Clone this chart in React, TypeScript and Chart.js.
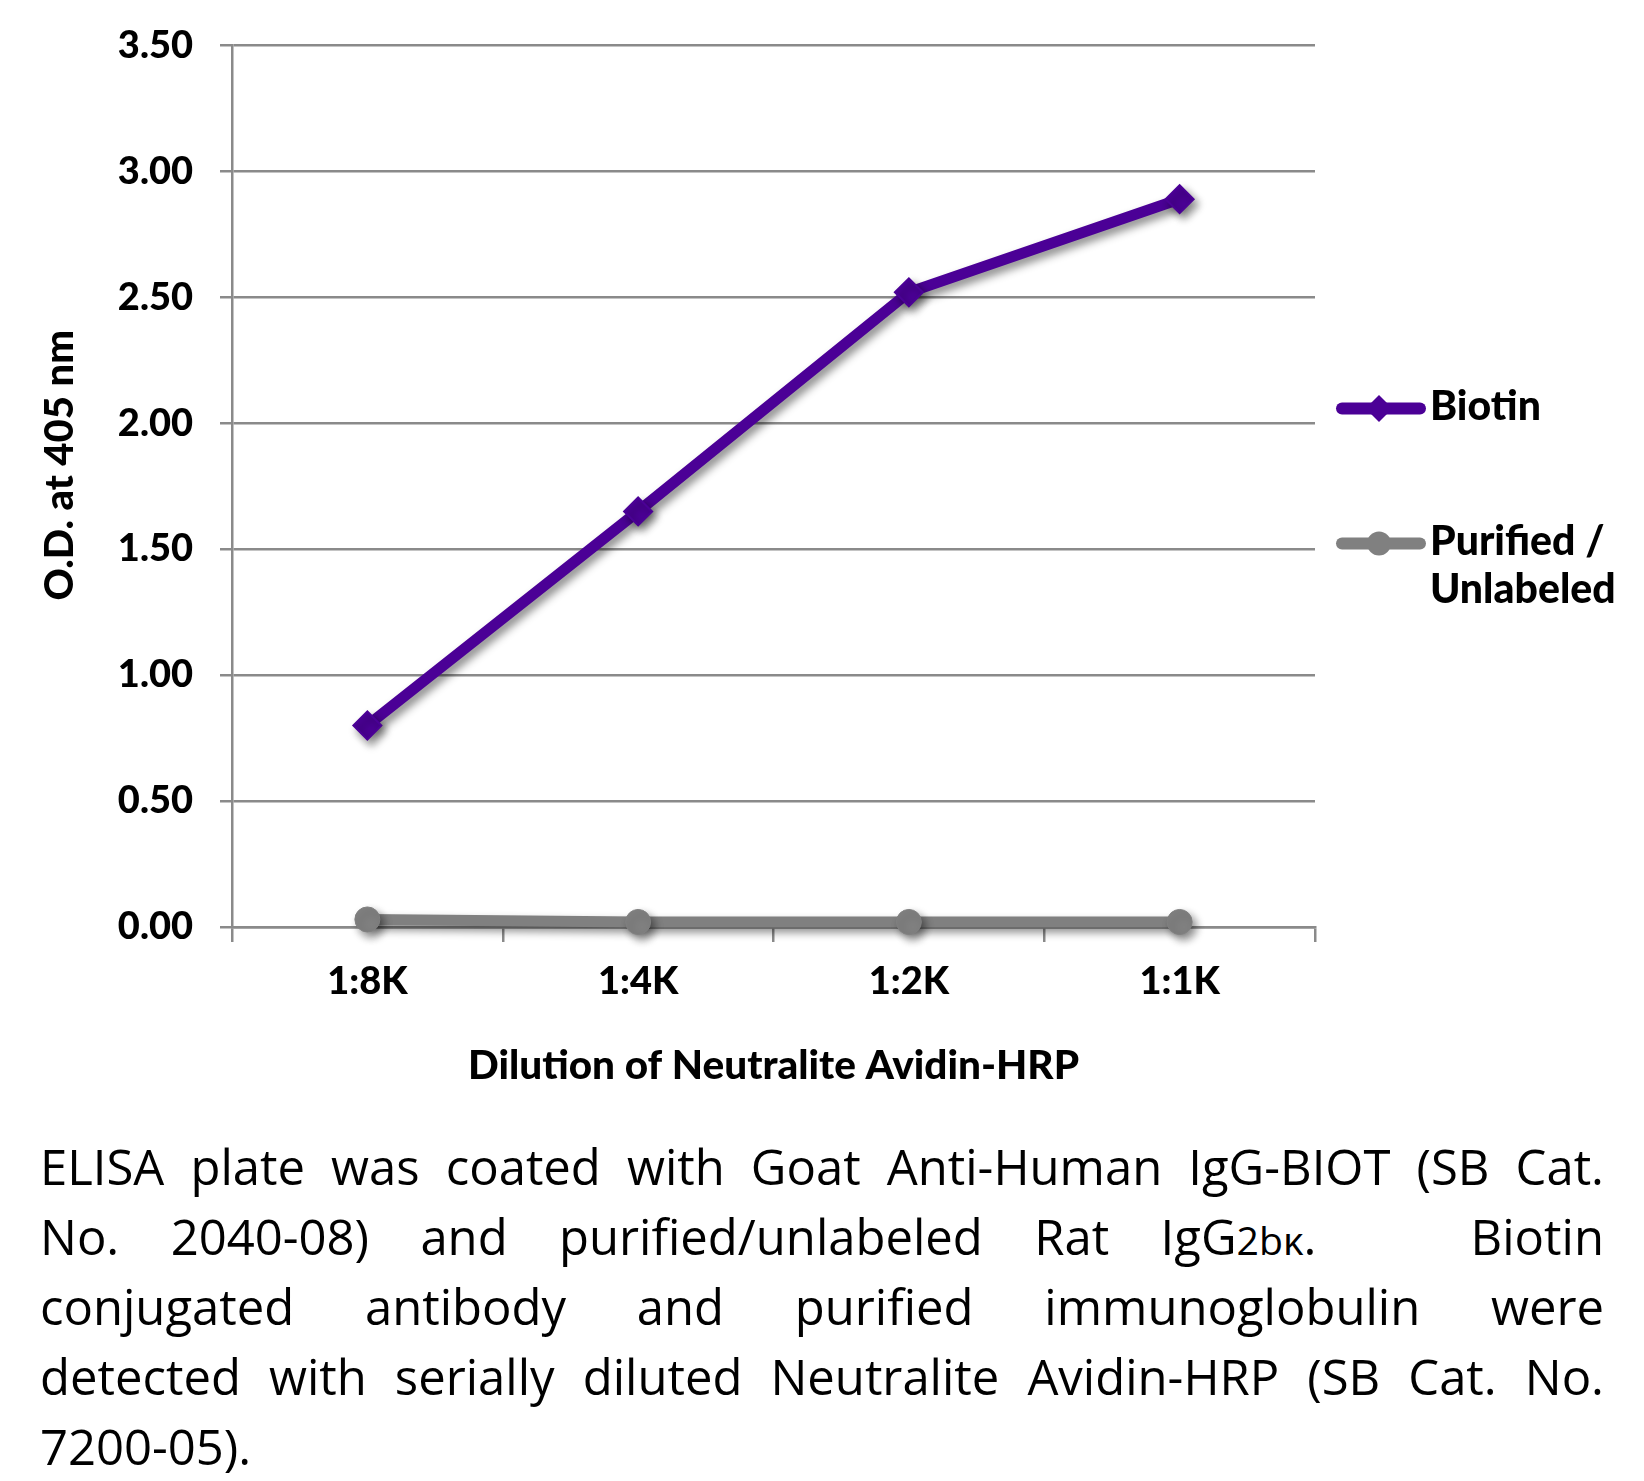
import React, { useEffect, useRef } from 'react';
import { Chart, registerables } from 'chart.js';

Chart.register(...registerables);

const CATEGORIES = ['1:8K', '1:4K', '1:2K', '1:1K'];
const BIOTIN = [0.8, 1.65, 2.52, 2.89];
const PURIFIED = [0.03, 0.02, 0.02, 0.02];
const SERIES_LINES = [['Biotin'], ['Purified /', 'Unlabeled']];
const SERIES_COLORS = ['#4B0096', '#808080'];
const Y_MIN = 0;
const Y_MAX = 3.5;
const Y_STEP = 0.5;
const Y_TITLE = 'O.D. at 405 nm';
const X_TITLE = 'Dilution of Neutralite Avidin-HRP';

const CAPTION_LINES: { t: string; small?: boolean }[][] = [
  [{ t: 'ELISA plate was coated with Goat Anti-Human IgG-BIOT (SB Cat.' }],
  [
    { t: 'No. 2040-08) and purified/unlabeled Rat IgG' },
    { t: '2b\u03BA', small: true },
    { t: '.\u00A0\u00A0 Biotin' },
  ],
  [{ t: 'conjugated antibody and purified immunoglobulin were' }],
  [{ t: 'detected with serially diluted Neutralite Avidin-HRP (SB Cat. No.' }],
  [{ t: '7200-05).' }],
];

const FONT = 'Lato, "Open Sans", sans-serif';
const CAPTION_FONT = '"Open Sans", "Noto Sans", sans-serif';
const CANVAS_W = 1628;
const CANVAS_H = 1100;
const AREA_LEFT = 224;
const AREA_RIGHT = 1307;
const AREA_TOP_PAD = 37.5;
const AREA_BOTTOM = 919;

const shadowPlugin = {
  id: 'shadowPlugin',
  beforeDatasetsDraw(chart: any) {
    const ctx = chart.ctx;
    ctx.save();
    ctx.shadowColor = 'rgba(0,0,0,0.45)';
    ctx.shadowBlur = 9;
    ctx.shadowOffsetX = 4;
    ctx.shadowOffsetY = 5;
  },
  afterDatasetsDraw(chart: any) {
    chart.ctx.restore();
  },
};

const yTitlePlugin = {
  id: 'yTitlePlugin',
  afterDraw(chart: any) {
    const ctx = chart.ctx;
    const ca = chart.chartArea;
    ctx.save();
    ctx.translate(52, (ca.top + ca.bottom) / 2 - 21);
    ctx.rotate(-Math.PI / 2);
    ctx.font = `900 40px ${FONT}`;
    ctx.fillStyle = '#000';
    ctx.textAlign = 'center';
    ctx.textBaseline = 'middle';
    ctx.fillText(Y_TITLE, 0, 0);
    ctx.restore();
  },
};

const legendPlugin = {
  id: 'customLegend',
  afterDraw(chart: any) {
    const ctx = chart.ctx;
    const ca = chart.chartArea;
    const x0 = ca.right + 21;
    const x1 = x0 + 90;
    const mx = x0 + 43;
    const ys = [ca.top + 363, ca.top + 498];
    chart.data.datasets.forEach((ds: any, i: number) => {
      const y = ys[i];
      ctx.save();
      ctx.strokeStyle = ds.borderColor;
      ctx.lineWidth = 12;
      ctx.lineCap = 'round';
      ctx.beginPath();
      ctx.moveTo(x0 + 6, y);
      ctx.lineTo(x1 - 6, y);
      ctx.stroke();
      ctx.fillStyle = ds.borderColor;
      ctx.beginPath();
      if (ds.pointStyle === 'rectRot') {
        const r = 13.5;
        ctx.moveTo(mx - r, y);
        ctx.lineTo(mx, y - r);
        ctx.lineTo(mx + r, y);
        ctx.lineTo(mx, y + r);
        ctx.closePath();
      } else {
        ctx.arc(mx, y, 12, 0, Math.PI * 2);
      }
      ctx.fill();
      ctx.font = `900 41px ${FONT}`;
      ctx.fillStyle = '#000';
      ctx.textAlign = 'left';
      ctx.textBaseline = 'alphabetic';
      const lines = SERIES_LINES[i];
      lines.forEach((ln, k) => {
        ctx.fillText(ln, x1 + 4, y + 11 + k * 48);
      });
      ctx.restore();
    });
  },
};

function ChartView() {
  const ref = useRef<HTMLCanvasElement | null>(null);
  useEffect(() => {
    if (!ref.current) return;
    const gridColor = '#8a8a8a';
    const chart = new Chart(ref.current, {
      type: 'line',
      data: {
        labels: CATEGORIES,
        datasets: [
          {
            label: SERIES_LINES[0].join(' '),
            data: BIOTIN,
            borderColor: SERIES_COLORS[0],
            backgroundColor: SERIES_COLORS[0],
            borderWidth: 11,
            pointStyle: 'rectRot',
            pointRadius: 14,
            pointBorderWidth: 2,
            pointBackgroundColor: SERIES_COLORS[0],
            pointBorderColor: SERIES_COLORS[0],
            tension: 0,
            clip: false,
          } as any,
          {
            label: SERIES_LINES[1].join(' '),
            data: PURIFIED,
            borderColor: SERIES_COLORS[1],
            backgroundColor: SERIES_COLORS[1],
            borderWidth: 11,
            pointStyle: 'circle',
            pointRadius: 12.5,
            pointBorderWidth: 1,
            pointBackgroundColor: SERIES_COLORS[1],
            pointBorderColor: SERIES_COLORS[1],
            tension: 0,
            clip: false,
          } as any,
        ],
      },
      options: {
        animation: false,
        responsive: false,
        maintainAspectRatio: false,
        layout: {
          padding: { top: AREA_TOP_PAD, right: CANVAS_W - AREA_RIGHT, bottom: 0, left: 0 },
        },
        plugins: {
          legend: { display: false },
          tooltip: { enabled: false },
        },
        scales: {
          x: {
            type: 'category',
            offset: true,
            grid: {
              display: true,
              offset: true,
              drawOnChartArea: false,
              drawTicks: true,
              tickLength: 15,
              color: gridColor,
              lineWidth: 2.5,
            },
            border: { display: true, color: gridColor, width: 2.5 },
            ticks: {
              color: '#000',
              font: { family: FONT, size: 38, weight: '900' },
              padding: 17,
              maxRotation: 0,
            },
            title: {
              display: true,
              text: X_TITLE,
              color: '#000',
              font: { family: FONT, size: 40.5, weight: '900' },
              padding: { top: 0, bottom: 18 },
            },
            afterFit(scale: any) {
              scale.height = CANVAS_H - AREA_BOTTOM;
              scale.paddingLeft = 0;
              scale.paddingRight = 0;
            },
          } as any,
          y: {
            min: Y_MIN,
            max: Y_MAX,
            grid: {
              color: gridColor,
              lineWidth: 2.5,
              tickLength: 12,
              drawTicks: true,
            },
            border: { display: true, color: gridColor, width: 2.5 },
            ticks: {
              stepSize: Y_STEP,
              color: '#000',
              font: { family: FONT, size: 38, weight: '900' },
              padding: 27,
              callback: (v: any) => Number(v).toFixed(2),
            },
            afterFit(scale: any) {
              scale.width = AREA_LEFT;
              scale.paddingTop = 0;
              scale.paddingBottom = 0;
            },
          } as any,
        },
      },
      plugins: [shadowPlugin, yTitlePlugin, legendPlugin],
    });
    return () => chart.destroy();
  }, []);
  return (
    <canvas
      ref={ref}
      width={CANVAS_W}
      height={CANVAS_H}
      style={{ display: 'block', width: CANVAS_W, height: CANVAS_H }}
    />
  );
}

export default function App() {
  return (
    <div style={{ width: CANVAS_W, background: '#fff' }}>
      <ChartView />
      <div
        style={{
          marginTop: 23,
          marginLeft: 32,
          width: 1564,
          fontFamily: CAPTION_FONT,
          fontSize: 49,
          lineHeight: '70px',
          color: '#000',
        }}
      >
        {CAPTION_LINES.map((line, i) => (
          <div
            key={i}
            style={{
              height: 70,
              textAlign: i === CAPTION_LINES.length - 1 ? 'left' : 'justify',
              textAlignLast: i === CAPTION_LINES.length - 1 ? 'left' : 'justify',
              whiteSpace: 'nowrap',
            } as any}
          >
            {line.map((seg, k) =>
              seg.small ? (
                <span key={k} style={{ fontSize: '0.8em', lineHeight: '10px' }}>
                  {seg.t}
                </span>
              ) : (
                <span key={k}>{seg.t}</span>
              )
            )}
          </div>
        ))}
      </div>
    </div>
  );
}
